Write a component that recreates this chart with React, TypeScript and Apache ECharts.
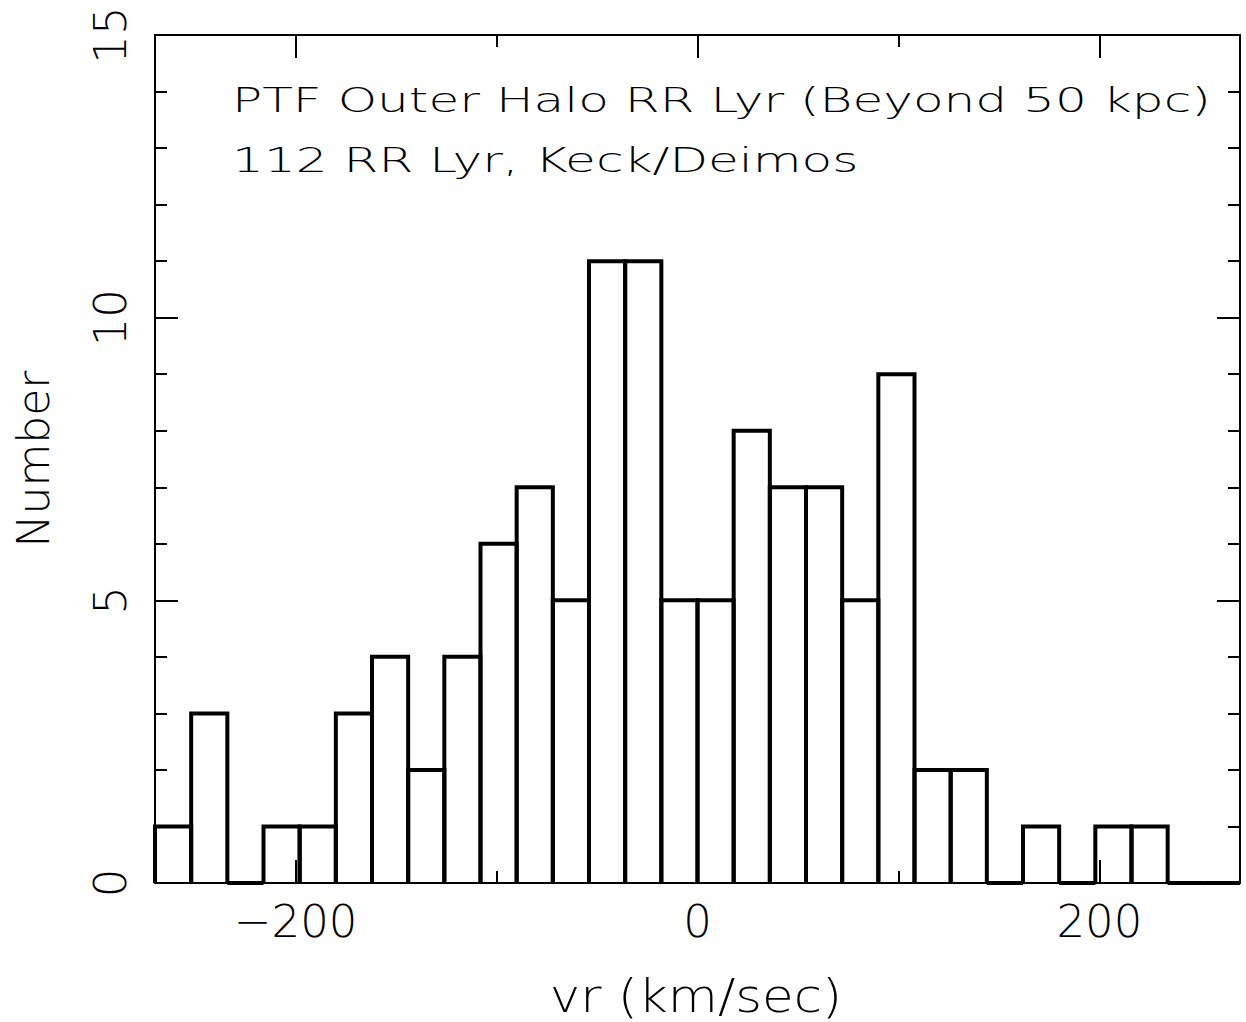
import React, { useEffect, useRef } from "react";
import * as echarts from "echarts";

// Histogram bin edges (km/sec) and counts
const binEdges = [
  -270, -252, -234, -216, -198, -180, -162, -144, -126, -108, -90, -72, -54, -36, -18, 0,
  18, 36, 54, 72, 90, 108, 126, 144, 162, 180, 198, 216, 234, 252, 270,
];
const counts = [1, 3, 0, 1, 1, 3, 4, 2, 4, 6, 7, 5, 11, 11, 5, 5, 8, 7, 7, 5, 9, 2, 2, 0, 1, 0, 1, 1, 0, 0];

const xMajorTicks = [-200, 0, 200];
const xMinorTicks = [-100, 100];
const titleLines = ["PTF Outer Halo RR Lyr (Beyond 50 kpc)", "112 RR Lyr, Keck/Deimos"];
const xName = "vr (km/sec)";
const yName = "Number";

const FONT = "'DejaVu Sans', sans-serif";

export default function App() {
  const ref = useRef<HTMLDivElement>(null);
  useEffect(() => {
    if (!ref.current) return;
    const chart = echarts.init(ref.current, null, { renderer: "svg" });
    const data = counts.map((c, i) => [binEdges[i], binEdges[i + 1], c]);
    const minus = (v: number) => String(v).replace("-", "\u2212");
    const lineStyle = { color: "#000", width: 2 };
    const gridPos = { left: 155, right: 6, top: 35, bottom: 139 };
    const xBase = { type: "value" as const, min: -270, max: 270, splitLine: { show: false } };
    chart.setOption({
      animation: false,
      backgroundColor: "#fff",
      grid: { ...gridPos, containLabel: false },
      xAxis: [
        {
          ...xBase,
          position: "bottom",
          axisLine: { show: true, onZero: false, lineStyle },
          axisTick: { show: true, inside: true, length: 23, lineStyle, customValues: xMajorTicks },
          axisLabel: {
            show: true,
            customValues: xMajorTicks,
            formatter: minus,
            fontFamily: FONT,
            fontWeight: 200,
            fontSize: 45,
            color: "#000",
            margin: 16,
          },
        },
        {
          ...xBase,
          position: "bottom",
          axisLine: { show: false, onZero: false },
          axisTick: { show: true, inside: true, length: 12, lineStyle, customValues: xMinorTicks },
          axisLabel: { show: false },
        },
        {
          ...xBase,
          position: "top",
          axisLine: { show: true, onZero: false, lineStyle },
          axisTick: { show: true, inside: true, length: 23, lineStyle, customValues: xMajorTicks },
          axisLabel: { show: false },
        },
        {
          ...xBase,
          position: "top",
          axisLine: { show: false, onZero: false },
          axisTick: { show: true, inside: true, length: 12, lineStyle, customValues: xMinorTicks },
          axisLabel: { show: false },
        },
      ],
      yAxis: [
        {
          type: "value",
          position: "left",
          min: 0,
          max: 15,
          interval: 5,
          splitLine: { show: false },
          axisLine: { show: true, onZero: false, lineStyle },
          axisTick: { show: true, inside: true, length: 23, lineStyle },
          minorTick: { show: true, splitNumber: 5, length: 12, lineStyle },
          minorSplitLine: { show: false },
          axisLabel: {
            show: true,
            rotate: 90,
            fontFamily: FONT,
            fontWeight: 200,
            fontSize: 45,
            color: "#000",
            margin: 22,
          },
          name: yName,
          nameLocation: "middle",
          nameGap: 100,
          nameTextStyle: { fontFamily: FONT, fontWeight: 200, fontSize: 44, color: "#000" },
        },
        {
          type: "value",
          position: "right",
          min: 0,
          max: 15,
          interval: 5,
          splitLine: { show: false },
          axisLine: { show: true, onZero: false, lineStyle },
          axisTick: { show: true, inside: true, length: 23, lineStyle },
          minorTick: { show: true, splitNumber: 5, length: 12, lineStyle },
          minorSplitLine: { show: false },
          axisLabel: { show: false },
        },
      ],
      graphic: [
        {
          type: "text",
          x: 232,
          y: 100,
          scaleX: 1.475,
          style: {
            text: titleLines[0],
            fontFamily: FONT,
            fontWeight: 200,
            fontSize: 34,
            fill: "#000",
            align: "left",
            verticalAlign: "middle",
          },
        },
        {
          type: "text",
          x: 232,
          y: 160,
          scaleX: 1.475,
          style: {
            text: titleLines[1],
            fontFamily: FONT,
            fontWeight: 200,
            fontSize: 34,
            fill: "#000",
            align: "left",
            verticalAlign: "middle",
          },
        },
        {
          type: "text",
          x: 696,
          y: 996,
          scaleX: 1.12,
          style: {
            text: xName,
            fontFamily: FONT,
            fontWeight: 200,
            fontSize: 46,
            fill: "#000",
            align: "center",
            verticalAlign: "middle",
          },
        },
      ],
      series: [
        {
          type: "custom",
          xAxisIndex: 0,
          yAxisIndex: 0,
          data,
          encode: { x: [0, 1], y: 2 },
          renderItem: (_params: any, api: any) => {
            const x0 = api.value(0);
            const x1 = api.value(1);
            const h = api.value(2);
            const pts = [api.coord([x0, 0]), api.coord([x0, h]), api.coord([x1, h]), api.coord([x1, 0])];
            return {
              type: "polyline",
              shape: { points: pts },
              style: { stroke: "#000", lineWidth: 4, fill: "none", lineJoin: "miter" },
            };
          },
        },
      ],
    });
    return () => chart.dispose();
  }, []);
  return (
    <div
      ref={ref}
      style={{ position: "absolute", left: 0, top: 0, width: 1246, height: 1022, background: "#fff" }}
    />
  );
}
